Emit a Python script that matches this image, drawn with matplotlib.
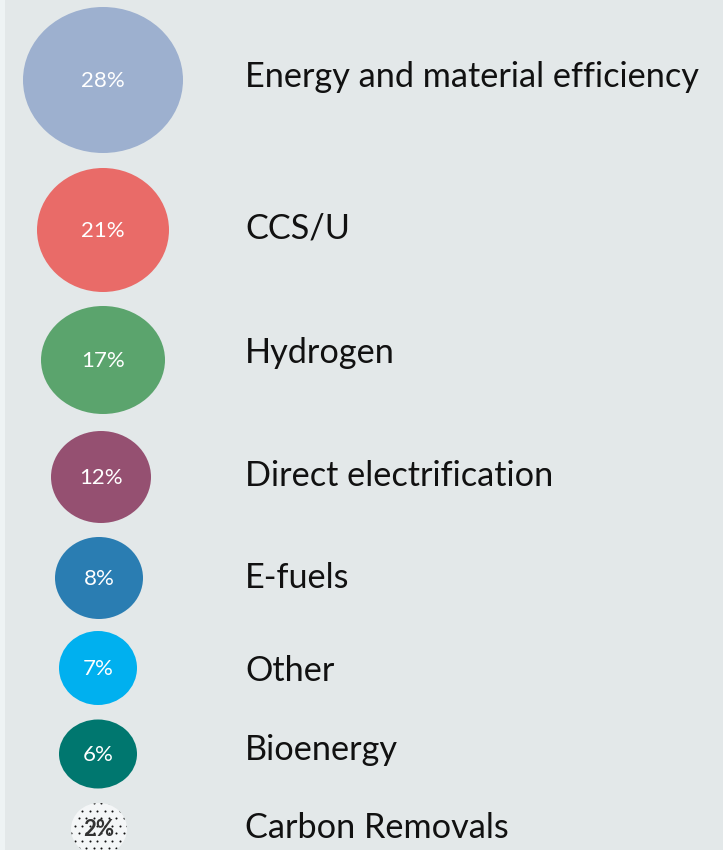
import matplotlib
matplotlib.use("Agg")
import matplotlib.pyplot as plt
import numpy as np
from matplotlib.patches import Ellipse, Rectangle

categories = ["Energy and material efficiency", "CCS/U", "Hydrogen",
              "Direct electrification", "E-fuels", "Other", "Bioenergy",
              "Carbon Removals"]
values = [28, 21, 17, 12, 8, 7, 6, 2]
colors = ["#9db0cf", "#e96b68", "#5ba46d", "#955071", "#2a7db2",
          "#00b0ef", "#00776f", "#f4f6f7"]

# layout (pixel space)
cx = [103, 103, 103, 101, 99, 98, 98, 99]
cy = [80, 230, 360, 477, 578, 668, 754, 829]
ew = [160, 132, 124, 100, 88, 78, 78, 56]
eh = [146, 124, 108, 92, 82, 74, 69, 52]
label_y = [77, 228, 353, 476, 578, 671, 750, 828]

W, H = 723, 850
fig = plt.figure(figsize=(W / 100, H / 100), dpi=100)
fig.patch.set_facecolor("#eef3f4")
ax = fig.add_axes([0, 0, 1, 1])
ax.set_xlim(0, W)
ax.set_ylim(H, 0)
ax.axis("off")
ax.add_patch(Rectangle((5, 0), W - 5, H, facecolor="#e3e8e9", edgecolor="none"))

font = ["Lato", "DejaVu Sans"]
for i, (cat, v, c) in enumerate(zip(categories, values, colors)):
    last = i == len(categories) - 1
    e = Ellipse((cx[i], cy[i]), ew[i], eh[i], facecolor=c,
                edgecolor="none", linewidth=0)
    ax.add_patch(e)
    if last:
        # dotted pattern fill
        xs, ys = [], []
        for r, yy in enumerate(np.arange(cy[i] - eh[i] / 2, cy[i] + eh[i] / 2 + 1, 7.5)):
            off = 0 if r % 2 == 0 else 3.75
            for xx in np.arange(cx[i] - ew[i] / 2 + off, cx[i] + ew[i] / 2 + 1, 7.5):
                xs.append(xx)
                ys.append(yy)
        sc = ax.scatter(xs, ys, s=2.2, c="#111111", linewidths=0, zorder=3)
        sc.set_clip_path(e)
    ax.text(cx[i], cy[i] + 1, f"{v}%", ha="center", va="center",
            color="#333333" if last else "white",
            fontsize=16, family=font,
            fontweight="bold" if last else "normal", zorder=4)
    ax.text(245, label_y[i], cat, ha="left", va="center", color="#111111",
            fontsize=24.7, family=font)

fig.savefig("out.png", dpi=100, facecolor=fig.get_facecolor())
